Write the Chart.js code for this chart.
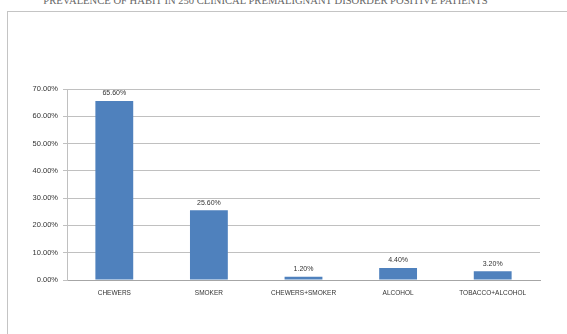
<!DOCTYPE html>
<html>
<head>
<meta charset="utf-8">
<script src="https://cdn.jsdelivr.net/npm/chart.js@4"></script>
<style>
  html, body { margin: 0; padding: 0; background: #fff; }
  body { width: 567px; height: 334px; position: relative; overflow: hidden; }
  #title {
    position: absolute; left: 0; width: 531px; top: -5px;
    text-align: center; font-family: "Liberation Serif", serif; font-size: 10.6px;
    color: #666; white-space: nowrap; line-height: 12px;
  }
  #frame {
    position: absolute; left: 7px; top: 11px; right: -2px; bottom: -2px;
    border-left: 1px solid #c4c4c4; border-top: 1px solid #c4c4c4;
  }
  #wrap { position: absolute; left: 0; top: 0; width: 567px; height: 334px; }
</style>
</head>
<body>
<div id="title">PREVALENCE OF HABIT IN 250 CLINICAL PREMALIGNANT DISORDER POSITIVE PATIENTS</div>
<div id="frame"></div>
<div id="wrap"><canvas id="habitChart"></canvas></div>
<script>
// habit groups and their share of patients (%)
const categories = ['CHEWERS', 'SMOKER', 'CHEWERS+SMOKER', 'ALCOHOL', 'TOBACCO+ALCOHOL'];
const prevalence = [65.6, 25.6, 1.2, 4.4, 3.2];
const yTicks = [0, 10, 20, 30, 40, 50, 60, 70];

const fontFamily = '"Liberation Sans", Arial, sans-serif';

// value labels on top of each bar
const barLabels = {
  id: 'barLabels',
  afterDatasetsDraw(chart) {
    const c = chart.ctx;
    const meta = chart.getDatasetMeta(0);
    c.save();
    c.font = '7px ' + fontFamily;
    c.fillStyle = '#333';
    c.textAlign = 'center';
    c.textBaseline = 'bottom';
    meta.data.forEach((bar, i) => {
      c.fillText(prevalence[i].toFixed(2) + '%', bar.x, bar.y - 4);
    });
    c.restore();
  }
};

const ctx = document.getElementById('habitChart').getContext('2d');
new Chart(ctx, {
  type: 'bar',
  data: {
    labels: categories,
    datasets: [{
      data: prevalence,
      backgroundColor: '#4f81bd',
      borderWidth: 0,
      categoryPercentage: 1,
      barPercentage: 0.4
    }]
  },
  options: {
    responsive: true,
    maintainAspectRatio: false,
    animation: false,
    events: [],
    layout: { padding: { left: 0, right: 27, top: 89, bottom: 0 } },
    plugins: {
      legend: { display: false },
      tooltip: { enabled: false },
      title: { display: false }
    },
    scales: {
      x: {
        grid: { display: false, drawTicks: false },
        border: { color: '#a6a6a6', width: 1 },
        ticks: {
          color: '#333',
          font: { family: fontFamily, size: 6.5 },
          padding: 9,
          maxRotation: 0,
          autoSkip: false
        },
        afterFit(scale) { scale.height = 54; }
      },
      y: {
        min: 0,
        max: 70,
        afterBuildTicks(scale) { scale.ticks = yTicks.map(v => ({ value: v })); },
        grid: { color: '#c0c0c0', tickLength: 4 },
        border: { color: '#c0c0c0', width: 1 },
        ticks: {
          color: '#333',
          font: { family: fontFamily, size: 7.5 },
          padding: 5,
          callback: v => v.toFixed(2) + '%'
        },
        afterFit(scale) { scale.width = 67; }
      }
    }
  },
  plugins: [barLabels]
});
</script>
</body>
</html>
